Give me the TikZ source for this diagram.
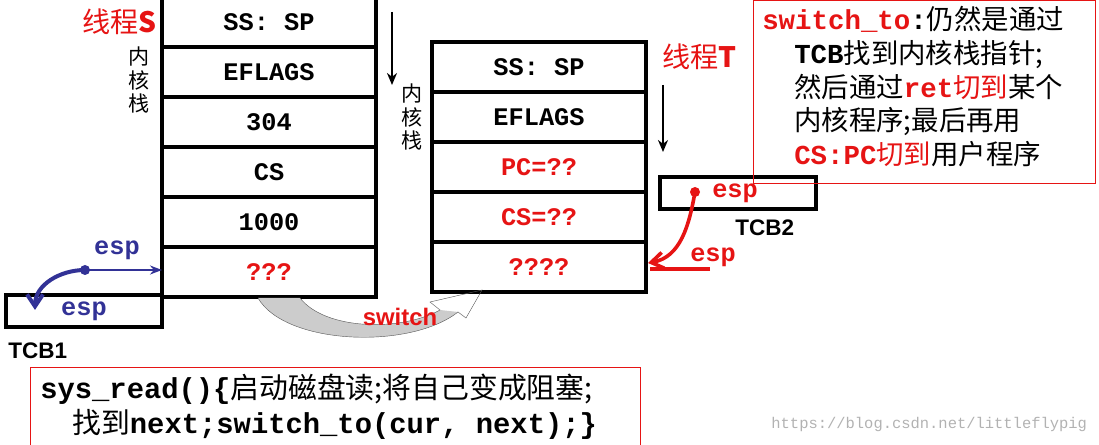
\documentclass[tikz,border=0pt]{standalone}
\usepackage{fontspec}
\setmainfont{Liberation Sans}
\setmonofont{Liberation Mono}
\newfontfamily\cjk{Noto Sans CJK SC}
\usetikzlibrary{positioning,arrows.meta}
\definecolor{tred}{RGB}{230,20,20}
\definecolor{tblue}{RGB}{50,50,150}
\begin{document}
\begin{tikzpicture}[x=0.025cm,y=-0.025cm,
cell/.style={draw=black, line width=1.1mm, outer sep=0pt, minimum width=5.35cm, minimum height=1.25cm, inner sep=0pt, font=\fontsize{18}{18}\selectfont\ttfamily\bfseries},
tcb/.style={draw=black, line width=1mm, outer sep=0pt, minimum width=3.9cm, minimum height=0.8cm, inner sep=0pt, font=\fontsize{18}{18}\selectfont\ttfamily\bfseries},
cn/.style={font=\fontsize{20}{20}\selectfont\cjk, inner sep=0pt},
lbl/.style={font=\fontsize{16}{16}\selectfont\bfseries, inner sep=0pt},
tt/.style={font=\fontsize{18}{18}\selectfont\ttfamily\bfseries, inner sep=0pt},
]
\useasboundingbox (0,0) rectangle (1099,445);

% left stack
\node (s1) [cell, anchor=north west] at (162,-3) {SS: SP};
\node (s2) [cell, below=0pt of s1] {EFLAGS};
\node (s3) [cell, below=0pt of s2] {304};
\node (s4) [cell, below=0pt of s3] {CS};
\node (s5) [cell, below=0pt of s4] {1000};
\node (s6) [cell, below=0pt of s5, text=tred] {???};

% right stack
\node (t1) [cell, anchor=north west] at (432,42) {SS: SP};
\node (t2) [cell, below=0pt of t1] {EFLAGS};
\node (t3) [cell, below=0pt of t2, text=tred] {PC=??};
\node (t4) [cell, below=0pt of t3, text=tred] {CS=??};
\node (t5) [cell, below=0pt of t4, text=tred] {????};

% labels
\node (ls) [cn, text=tred, anchor=east] at (157,22) {线程\textbf{S}};
\node (lt) [cn, text=tred, anchor=west] at (662,57) {线程\textbf{T}};
\node (ks) [cn, align=center, font=\fontsize{15}{16.5}\selectfont\cjk] at (139,80) {内\\核\\栈};
\node (kt) [cn, align=center, font=\fontsize{15}{16.5}\selectfont\cjk] at (412,117) {内\\核\\栈};
\coordinate (as1) at (392,12); \coordinate (as2) at (392,85);
\coordinate (at1) at (663,85); \coordinate (at2) at (663,152);
\draw[line width=0.6mm, -{Stealth[length=3mm,width=2.5mm]}] (as1) -- (as2);
\draw[line width=0.6mm, -{Stealth[length=3mm,width=2.5mm]}] (at1) -- (at2);

% TCB1
\node (tcb1) [tcb, anchor=north west, text=tblue] at (6,295) {esp};
\node (n1) [lbl, anchor=west] at (8,351) {TCB1};
\coordinate (d1) at (85,270);
\fill[tblue] (d1) circle (5);
\node (e1) [tt, text=tblue] at (117,250) {esp};
\draw[tblue, line width=0.7mm, -{Stealth[length=3mm]}] (d1) -- (s6.west |- d1);
\draw[tblue, line width=1mm, -{Straight Barb[length=3mm,width=4mm]}] (d1) to[out=180,in=90] (35,310);

% TCB2
\node (tcb2) [tcb, anchor=north west] at (660,177) {};
\node (e2) [tt, text=tred, anchor=west] at (712,193) {esp};
\node (n2) [lbl, anchor=west] at (735,228) {TCB2};
\coordinate (d2) at (695,192);
\fill[tred] (d2) circle (5);
\draw[tred, line width=0.9mm, -{Straight Barb[length=3mm,width=4mm]}] (d2) to[out=-100,in=10] (648,263);
\draw[tred, line width=0.9mm] (710,269) -- (650,269);
\node (e3) [tt, text=tred, anchor=west] at (690,257) {esp};

% switch
\coordinate (w1) at (258,298); \coordinate (w2) at (300,298); \coordinate (w3) at (482,290);
\fill[gray!40] (w1) .. controls (285,345) and (410,350) .. (458,312) -- (440,310) .. controls (400,332) and (325,330) .. (w2) -- cycle;
\draw[gray!70!black, line width=0.3pt] (w1) .. controls (285,345) and (410,350) .. (458,312) -- (466,318) -- (w3) -- (430,302) -- (440,310) .. controls (400,332) and (325,330) .. (w2);
\node (sw) [font=\fontsize{17}{17}\selectfont\bfseries, text=tred] at (400,317) {switch};

% note boxes
\node (nb1) [draw=tred, line width=0.4pt, anchor=north west, minimum width=8.55cm, minimum height=4.57cm] at (753,0) {};
\node (nt) [cn, anchor=north west, align=left, font=\fontsize{19.5}{24}\selectfont\cjk] at (762,6) {%
{\ttfamily\bfseries\color{tred}switch\_to}{\ttfamily\bfseries :}仍然是通过\\
\hspace*{0.8cm}{\ttfamily\bfseries TCB}找到内核栈指针;\\
\hspace*{0.8cm}然后通过{\ttfamily\bfseries\color{tred}ret}{\color{tred}切到}某个\\
\hspace*{0.8cm}内核程序;最后再用\\
\hspace*{0.8cm}{\ttfamily\bfseries\color{tred}CS:PC}{\color{tred}切到}用户程序};

\node (nb2) [draw=tred, line width=0.4pt, anchor=north west, minimum width=15.25cm, minimum height=2.0cm] at (30,367) {};
\node (nc) [cn, anchor=north west, align=left, font=\fontsize{20.5}{25}\selectfont\cjk] at (40,374) {%
{\ttfamily\bfseries sys\_read()\{}启动磁盘读;将自己变成阻塞;\\
\hspace*{0.8cm}找到{\ttfamily\bfseries next;switch\_to(cur, next);\}}};

\node (wm) [font=\fontsize{11}{11}\selectfont\ttfamily, text=gray!60, anchor=east] at (1092,425) {https://blog.csdn.net/littleflypig};
\end{tikzpicture}
\end{document}
